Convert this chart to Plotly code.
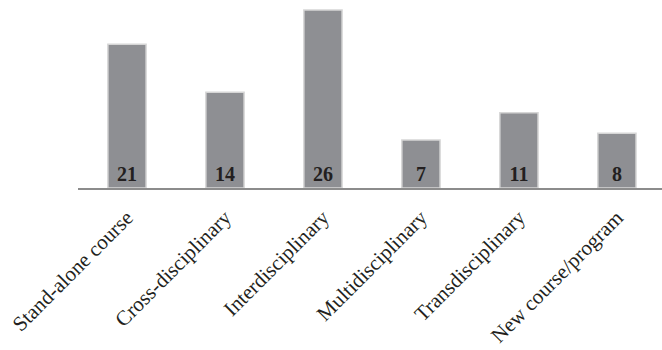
import plotly.graph_objects as go

categories = ["Stand-alone course", "Cross-disciplinary", "Interdisciplinary",
              "Multidisciplinary", "Transdisciplinary", "New course/program"]
values = [21, 14, 26, 7, 11, 8]

fig = go.Figure(go.Bar(
    x=categories, y=values,
    marker=dict(color="#8e8f93", line=dict(color="#d6d6d6", width=1.5)),
    text=[str(v) for v in values],
    textposition="inside", insidetextanchor="start",
    textfont=dict(family="Liberation Serif", size=20, color="#231f20"),
    texttemplate="<b>%{text}</b>",
    width=0.39,
))

fig.update_layout(
    width=662, height=350,
    margin=dict(l=78, r=0, t=0, b=162),
    plot_bgcolor="white", paper_bgcolor="white",
    showlegend=False,
    font=dict(family="Liberation Serif", color="#231f20"),
)
fig.update_xaxes(
    range=[-0.5, 5.46], tickangle=-45, ticks="", showline=True,
    linecolor="#8c8c8c", linewidth=2,
    tickfont=dict(family="Liberation Serif", size=21, color="#231f20"),
    ticklabelstandoff=7,
    showgrid=False,
)
fig.update_yaxes(range=[0, 27.46], visible=False, showgrid=False)

fig.write_html("out.html")
